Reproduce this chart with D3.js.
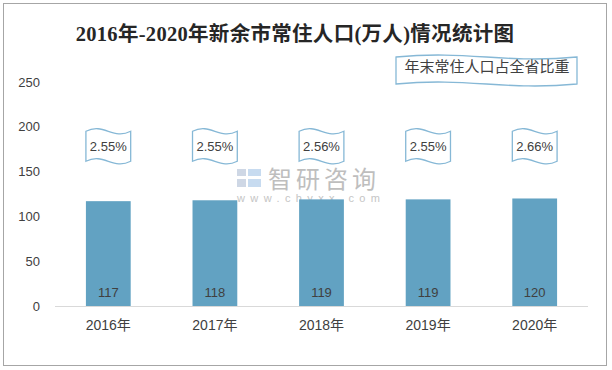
<!DOCTYPE html>
<html>
<head>
<meta charset="utf-8">
<script src="https://cdn.jsdelivr.net/npm/d3@7"></script>
<style>
  body { margin: 0; background: #fff; }
  text { font-family: "Liberation Sans", "Noto Sans CJK SC", sans-serif; }
</style>
</head>
<body>
<script>
// chart data
const years = ["2016年", "2017年", "2018年", "2019年", "2020年"];
const population = [117, 118, 119, 119, 120];
const provinceShare = ["2.55%", "2.55%", "2.56%", "2.55%", "2.66%"];
const yTicks = [0, 50, 100, 150, 200, 250];

const W = 612, H = 370;
const svg = d3.select("body").append("svg")
    .attr("width", W)
    .attr("height", H);

// outer frame
svg.append("rect")
    .attr("x", 3.5).attr("y", 3.5)
    .attr("width", 603).attr("height", 362)
    .attr("fill", "#fff")
    .attr("stroke", "#a6a6a6")
    .attr("stroke-width", 1);

// title
svg.append("text")
    .attr("x", 295).attr("y", 41)
    .attr("text-anchor", "middle")
    .style("font-family", "'Liberation Serif', 'Noto Sans CJK SC', serif")
    .style("font-size", "20.5px")
    .style("font-weight", "bold")
    .style("letter-spacing", "0.3px")
    .attr("fill", "#262626")
    .text("2016年-2020年新余市常住人口(万人)情况统计图");

let x = d3.scaleBand()
    .domain(years)
    .range([55, 588])
    .paddingInner(0.58)
    .paddingOuter(0.29);

let y = d3.scaleLinear()
    .domain([0, 250])
    .range([306, 82]);

// wave shaped box (like excel "wave" shape)
function wavePath(x0, y0, w, h, a) {
    let p = d3.path();
    p.moveTo(x0, y0);
    p.bezierCurveTo(x0 + w * 0.4, y0 - 2 * a, x0 + w * 0.6, y0 + 2 * a, x0 + w, y0);
    p.lineTo(x0 + w, y0 + h);
    p.bezierCurveTo(x0 + w * 0.6, y0 + h + 2 * a, x0 + w * 0.4, y0 + h - 2 * a, x0, y0 + h);
    p.closePath();
    return p.toString();
}

// watermark
let wm = svg.append("g").attr("opacity", 0.9);
wm.append("rect").attr("x", 237).attr("y", 169).attr("width", 9).attr("height", 7).attr("fill", "#c9d3e3");
wm.append("rect").attr("x", 237).attr("y", 179).attr("width", 9).attr("height", 8).attr("fill", "#c9d3e3");
wm.append("rect").attr("x", 248).attr("y", 169).attr("width", 13).attr("height", 7).attr("fill", "#c2d8ef");
wm.append("rect").attr("x", 248).attr("y", 179).attr("width", 13).attr("height", 8).attr("fill", "#c2d8ef");
wm.append("text")
    .attr("x", 268).attr("y", 188)
    .style("font-size", "24px")
    .style("letter-spacing", "4px")
    .attr("fill", "#b8b8b8")
    .text("智研咨询");
wm.append("text")
    .attr("x", 237).attr("y", 202)
    .style("font-size", "11px")
    .style("letter-spacing", "5.4px")
    .attr("fill", "#c0c0c0")
    .text("www.chyxx.com");

// y axis labels
svg.selectAll(".ylab")
    .data(yTicks)
    .enter().append("text")
    .attr("class", "ylab")
    .attr("x", 40)
    .attr("y", d => y(d) + 4.5)
    .attr("text-anchor", "end")
    .style("font-size", "13px")
    .attr("fill", "#404040")
    .text(d => d);

// bars
svg.selectAll(".bar")
    .data(population)
    .enter().append("rect")
    .attr("class", "bar")
    .attr("x", (d, i) => x(years[i]))
    .attr("y", d => y(d))
    .attr("width", x.bandwidth())
    .attr("height", d => y(0) - y(d))
    .attr("fill", "#62a2c2");

// baseline
svg.append("line")
    .attr("x1", 55).attr("x2", 588)
    .attr("y1", y(0) + 0.5).attr("y2", y(0) + 0.5)
    .attr("stroke", "#d9d9d9")
    .attr("stroke-width", 1);

// value labels inside bars
svg.selectAll(".vlab")
    .data(population)
    .enter().append("text")
    .attr("class", "vlab")
    .attr("x", (d, i) => x(years[i]) + x.bandwidth() / 2)
    .attr("y", y(0) - 9)
    .attr("text-anchor", "middle")
    .style("font-size", "13px")
    .attr("fill", "#404040")
    .text(d => d);

// x axis labels
svg.selectAll(".xlab")
    .data(years)
    .enter().append("text")
    .attr("class", "xlab")
    .attr("x", d => x(d) + x.bandwidth() / 2)
    .attr("y", 330)
    .attr("text-anchor", "middle")
    .style("font-size", "14px")
    .attr("fill", "#404040")
    .text(d => d);

// share flags
let flagTop = y(195), flagH = 30;
let flags = svg.selectAll(".flag")
    .data(provinceShare)
    .enter().append("g")
    .attr("class", "flag");
flags.append("path")
    .attr("d", (d, i) => wavePath(x(years[i]), flagTop, x.bandwidth(), flagH, 4.5))
    .attr("fill", "#fff")
    .attr("stroke", "#86b8d6")
    .attr("stroke-width", 1.3);
flags.append("text")
    .attr("x", (d, i) => x(years[i]) + x.bandwidth() / 2)
    .attr("y", flagTop + flagH / 2 + 4.5)
    .attr("text-anchor", "middle")
    .style("font-size", "13px")
    .attr("fill", "#404040")
    .text(d => d);

// legend flag
svg.append("path")
    .attr("d", wavePath(396, 57, 181, 27, 3.5))
    .attr("fill", "#fff")
    .attr("stroke", "#86b8d6")
    .attr("stroke-width", 1.3);
svg.append("text")
    .attr("x", 487).attr("y", 72)
    .attr("text-anchor", "middle")
    .style("font-size", "15px")
    .attr("fill", "#404040")
    .text("年末常住人口占全省比重");
</script>
</body>
</html>
